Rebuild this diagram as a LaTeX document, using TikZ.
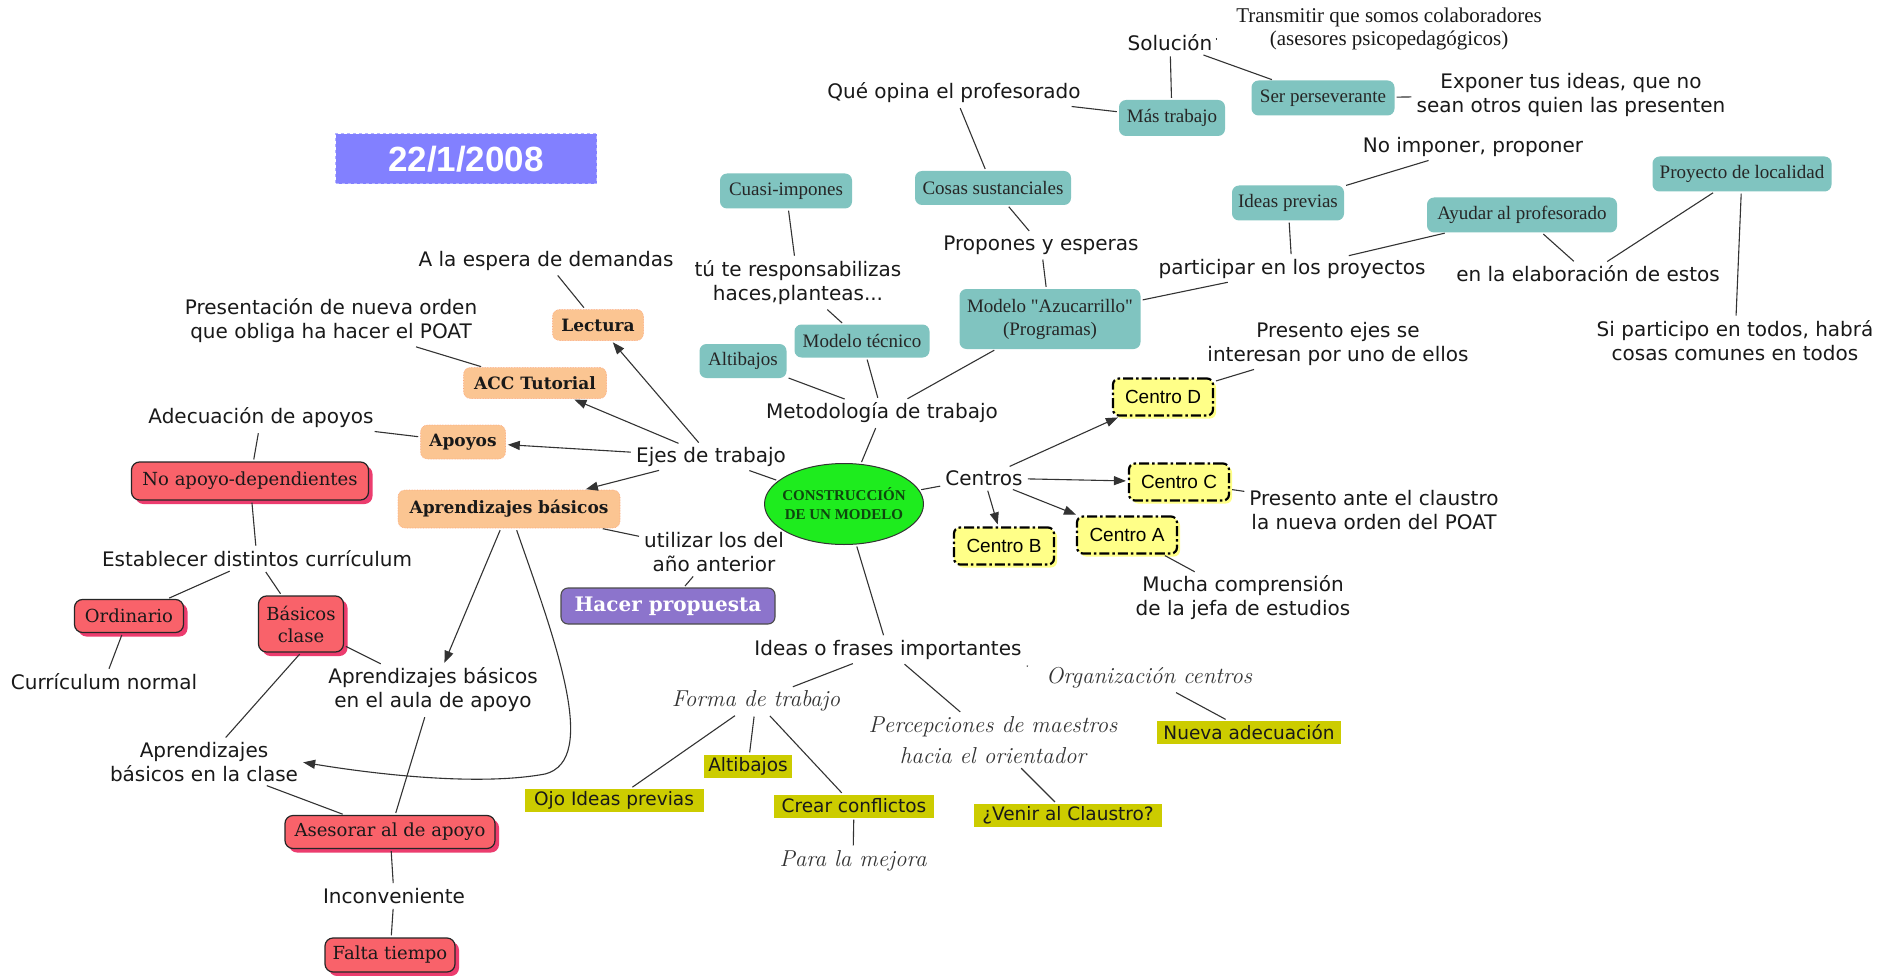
\documentclass[tikz,border=0pt]{standalone}
\usepackage{fontspec}
\usetikzlibrary{arrows.meta,shadows,shapes.geometric}
\newfontfamily\dv{DejaVu Sans}
\newfontfamily\tms{Liberation Serif}
\newfontfamily\slab{DejaVu Serif}
\newfontfamily\arl{Liberation Sans}

\definecolor{tealc}{RGB}{128,196,192}
\definecolor{orangec}{RGB}{251,197,146}
\definecolor{redc}{RGB}{249,98,106}
\definecolor{pinkshadow}{RGB}{236,60,110}
\definecolor{purplec}{RGB}{140,116,204}
\definecolor{olivec}{RGB}{204,204,0}
\definecolor{centroc}{RGB}{255,255,136}
\definecolor{greenc}{RGB}{30,236,30}
\definecolor{dategreen}{RGB}{14,70,14}
\definecolor{datec}{RGB}{130,128,255}

\tikzset{
  conn/.style={draw=black!80, line width=1.1pt, shorten >=2pt, shorten <=2pt},
  arr/.style={conn, -{Triangle[length=12pt,width=9pt]}},
  plain/.style={font=\dv\fontsize{20}{24}\selectfont, align=center, inner sep=3pt, text=black!90},
  serifplain/.style={font=\tms\fontsize{21}{23}\selectfont, align=center, inner sep=3pt, text=black!90},
  script/.style={font=\rmfamily\itshape\fontsize{23}{31}\selectfont, align=center, inner sep=3pt, text=black!80},
  tealbox/.style={fill=tealc, rounded corners=7pt, font=\tms\fontsize{19}{23}\selectfont,
    align=center, inner sep=2pt, text=black!85},
  orangebox/.style={fill=orangec, draw=orangec!85!red, densely dotted, line width=0.6pt,
    rounded corners=7pt, font=\slab\bfseries\fontsize{17}{20}\selectfont, inner sep=2pt, text=black!90},
  redbox/.style={fill=redc, draw=black!85, line width=1.2pt, rounded corners=8pt,
    font=\slab\fontsize{18}{24}\selectfont, align=center, inner sep=2pt, text=black!90,
    drop shadow={shadow xshift=4pt, shadow yshift=-4pt, fill=pinkshadow, opacity=1}},
  purplebox/.style={fill=purplec, draw=black!70, line width=1.1pt, rounded corners=7pt,
    font=\slab\bfseries\fontsize{20}{22}\selectfont, text=white, inner sep=2pt},
  greenhl/.style={fill=olivec, font=\dv\fontsize{18.5}{22}\selectfont, inner xsep=4pt,
    inner ysep=1pt, minimum height=23pt, text=black!90},
  centrobox/.style={fill=centroc, draw=black, line width=2.2pt,
    dash pattern=on 10pt off 3pt on 2.5pt off 3pt, rounded corners=6pt,
    font=\arl\fontsize{19}{22}\selectfont, minimum width=100pt, minimum height=37pt,
    drop shadow={shadow xshift=3pt, shadow yshift=-3pt, fill=centroc, opacity=1}},
}

\begin{document}
\begin{tikzpicture}[x=1pt, y=-1pt]
\useasboundingbox (0,0) rectangle (1894,976);
\fill[white] (0,0) rectangle (1894,976);

% date banner
\node[fill=datec, draw=datec!60!white, dashed, line width=1pt, minimum width=261pt,
  minimum height=50pt, font=\arl\bfseries\fontsize{35}{40}\selectfont, text=white]
  (date) at (466,159) {22/1/2008};

% central concept
\node[ellipse, fill=greenc, draw=black!80, line width=1pt, minimum width=159pt,
  minimum height=81pt, inner xsep=-8pt, inner ysep=0pt, align=center, text=dategreen,
  font=\tms\bfseries\fontsize{15}{19}\selectfont] (center) at (844,504)
  {CONSTRUCCIÓN\\DE UN MODELO};

% left branch: ejes de trabajo
\node[plain] (espera) at (546,261) {A la espera de demandas};
\node[orangebox, minimum width=91pt, minimum height=31pt] (lectura) at (598,325) {Lectura};
\node[plain] (presen) at (331,321) {Presentación de nueva orden\\que obliga ha hacer el POAT};
\node[orangebox, minimum width=143pt, minimum height=31pt] (acc) at (535,383) {ACC Tutorial};
\node[plain] (adec) at (261,418) {Adecuación de apoyos};
\node[orangebox, minimum width=85pt, minimum height=34pt] (apoyos) at (463,442) {Apoyos};
\node[plain] (ejes) at (711,457) {Ejes de trabajo};
\node[redbox, minimum width=237pt, minimum height=38pt] (noapoyo) at (250,481) {No apoyo-dependientes};
\node[orangebox, minimum width=222pt, minimum height=38pt] (aprend) at (509,509) {Aprendizajes básicos};
\node[plain] (utilizar) at (714,552) {utilizar los del\\año anterior};
\node[plain] (establecer) at (257,559) {Establecer distintos currículum};
\node[redbox, minimum width=109pt, minimum height=33pt] (ordinario) at (129,616) {Ordinario};
\node[redbox, minimum width=85pt, minimum height=56pt, font=\slab\fontsize{18}{22}\selectfont]
  (basicos) at (301,624) {Básicos\\clase};
\node[purplebox, minimum width=214pt, minimum height=36pt] (hacer) at (668,606) {Hacer propuesta};
\node[plain] (curric) at (104,682) {Currículum normal};
\node[plain] (aula) at (433,690) {Aprendizajes básicos\\en el aula de apoyo};
\node[plain] (clase) at (204,762) {Aprendizajes\\básicos en la clase};
\node[redbox, minimum width=210pt, minimum height=33pt] (asesorar) at (390,832) {Asesorar al de apoyo};
\node[plain] (incon) at (394,896) {Inconveniente};
\node[redbox, minimum width=130pt, minimum height=34pt] (falta) at (390,955) {Falta tiempo};

% upper branch: metodologia
\node[plain] (metod) at (882,413) {Metodología de trabajo};
\node[tealbox, minimum width=87pt, minimum height=34pt] (alti1) at (743,361) {Altibajos};
\node[tealbox, minimum width=135pt, minimum height=33pt] (tecnico) at (862,341) {Modelo técnico};
\node[plain] (tu) at (798,283) {tú te responsabilizas\\haces,planteas...};
\node[tealbox, minimum width=132pt, minimum height=35pt] (cuasi) at (786,191) {Cuasi-impones};
\node[tealbox, minimum width=181pt, minimum height=60pt] (azuc) at (1050,319) {Modelo "Azucarrillo"\\(Programas)};
\node[plain] (propones) at (1041,245) {Propones y esperas};
\node[tealbox, minimum width=156pt, minimum height=34pt] (cosas) at (993,188) {Cosas sustanciales};
\node[plain] (opina) at (954,93) {Qué opina el profesorado};
\node[tealbox, minimum width=106pt, minimum height=36pt] (mas) at (1172,118) {Más trabajo};
\node[plain] (solucion) at (1170,43) {Solución};
\node[serifplain] (transmitir) at (1389,29) {Transmitir que somos colaboradores\\(asesores psicopedagógicos)};
\node[tealbox, minimum width=143pt, minimum height=35pt] (ser) at (1323,98) {Ser perseverante};
\node[plain] (exponer) at (1571,95) {Exponer tus ideas, que no\\sean otros quien las presenten};
\node[plain] (noimp) at (1473,147) {No imponer, proponer};
\node[tealbox, minimum width=112pt, minimum height=35pt] (ideasprev) at (1288,203) {Ideas previas};
\node[tealbox, minimum width=190pt, minimum height=35pt] (ayudar) at (1522,215) {Ayudar al profesorado};
\node[tealbox, minimum width=179pt, minimum height=35pt] (proyecto) at (1742,174) {Proyecto de localidad};
\node[plain] (participar) at (1292,269) {participar en los proyectos};
\node[plain] (elabor) at (1588,274) {en la elaboración de estos};
\node[plain] (si) at (1735,341) {Si participo en todos, habrá\\cosas comunes en todos};

% right branch: centros
\node[plain] (presejes) at (1338,344) {Presento ejes se\\interesan por uno de ellos};
\node[centrobox] (cd) at (1163,397) {Centro D};
\node[plain] (centros) at (984,478) {Centros};
\node[centrobox] (cc) at (1179,482) {Centro C};
\node[plain] (presante) at (1374,510) {Presento ante el claustro\\la nueva orden del POAT};
\node[centrobox] (ca) at (1127,535) {Centro A};
\node[centrobox] (cb) at (1004,546) {Centro B};
\node[plain] (mucha) at (1243,598) {Mucha comprensión\\de la jefa de estudios};

% lower branch: ideas o frases
\node[plain] (ideas) at (888,650) {Ideas o frases importantes};
\node[script] (org) at (1149,678) {Organización centros};
\node[script] (forma) at (756,701) {Forma de trabajo};
\node[script] (percep) at (993,740) {Percepciones de maestros\\hacia el orientador};
\node[greenhl, minimum width=184pt] (nueva) at (1249,732) {Nueva adecuación};
\node[greenhl, minimum width=88pt] (alti2) at (748,766) {Altibajos};
\node[greenhl, minimum width=179pt] (ojo) at (614,800) {Ojo Ideas previas};
\node[greenhl, minimum width=160pt] (crear) at (854,806) {Crear conflictos};
\node[greenhl, minimum width=188pt] (venir) at (1068,815) {¿Venir al Claustro?};
\node[script] (mejora) at (853,861) {Para la mejora};

% connectors: ejes de trabajo
\draw[conn] (ejes) -- (center);
\draw[arr] (ejes) -- (lectura);
\draw[arr] (ejes) -- (acc);
\draw[arr] (ejes) -- (apoyos);
\draw[arr] (ejes) -- (aprend);
\draw[conn] (espera) -- (lectura);
\draw[conn] (presen) -- (acc);
\draw[conn] (adec) -- (apoyos);
\draw[conn] (adec) -- (noapoyo);
\draw[conn] (noapoyo) -- (establecer);
\draw[conn] (establecer) -- (ordinario);
\draw[conn] (establecer) -- (basicos);
\draw[conn] (ordinario) -- (curric);
\draw[conn] (basicos) -- (aula);
\draw[conn] (basicos.south) -- (clase);
\draw[arr] (aprend) -- (aula);
\draw[arr] (aprend.south) ++(7,0) coordinate (curvestart)
  (curvestart) .. controls (555,640) and (600,760) .. (545,774)
  .. controls (480,786) and (380,775) .. (clase.east);
\draw[conn] (aprend) -- (utilizar);
\draw[conn] (utilizar) -- (hacer);
\draw[conn] (aula) -- (asesorar);
\draw[conn] (clase) -- (asesorar);
\draw[conn] (asesorar) -- (incon);
\draw[conn] (incon) -- (falta);

% connectors: metodologia
\draw[conn] (center) -- (metod);
\draw[conn] (metod) -- (alti1);
\draw[conn] (metod) -- (tecnico);
\draw[conn] (metod) -- (azuc);
\draw[conn] (tecnico) -- (tu);
\draw[conn] (tu) -- (cuasi);
\draw[conn] (azuc) -- (propones);
\draw[conn] (propones) -- (cosas);
\draw[conn] (cosas) -- (opina);
\draw[conn] (opina) -- (mas);
\draw[conn] (mas) -- (solucion);
\draw[conn] (solucion) -- (ser);
\draw[conn] (ser) -- (exponer);
\draw[conn, shorten <=0pt] (solucion.east) ++(0,-4) coordinate (soltick) -- ++(3,0);
\draw[conn] (azuc) -- (participar);
\draw[conn] (participar) -- (ideasprev);
\draw[conn] (ideasprev) -- (noimp);
\draw[conn] (participar) -- (ayudar);
\draw[conn] (ayudar) -- (elabor);
\draw[conn] (elabor) -- (proyecto);
\draw[conn] (proyecto) -- (si);

% connectors: centros
\draw[conn] (center) -- (centros);
\draw[arr] (centros) -- (cd);
\draw[arr] (centros) -- (cc);
\draw[arr] (centros) -- (ca);
\draw[arr] (centros) -- (cb);
\draw[conn] (cd) -- (presejes);
\draw[conn] (cc) -- (presante);
\draw[conn] (ca) -- (mucha);

% connectors: ideas o frases
\draw[conn] (center) -- (ideas);
\draw[conn] (ideas) -- (forma);
\draw[conn] (ideas) -- (percep);
\draw[conn, shorten <=0pt] (ideas.south east) ++(2,3) coordinate (orgtick) -- ++(3,1);
\draw[conn] (org) -- (nueva);
\draw[conn] (forma) -- (ojo);
\draw[conn] (forma) -- (alti2);
\draw[conn] (forma) -- (crear);
\draw[conn] (crear) -- (mejora);
\draw[conn] (percep) -- (venir);
\end{tikzpicture}
\end{document}
